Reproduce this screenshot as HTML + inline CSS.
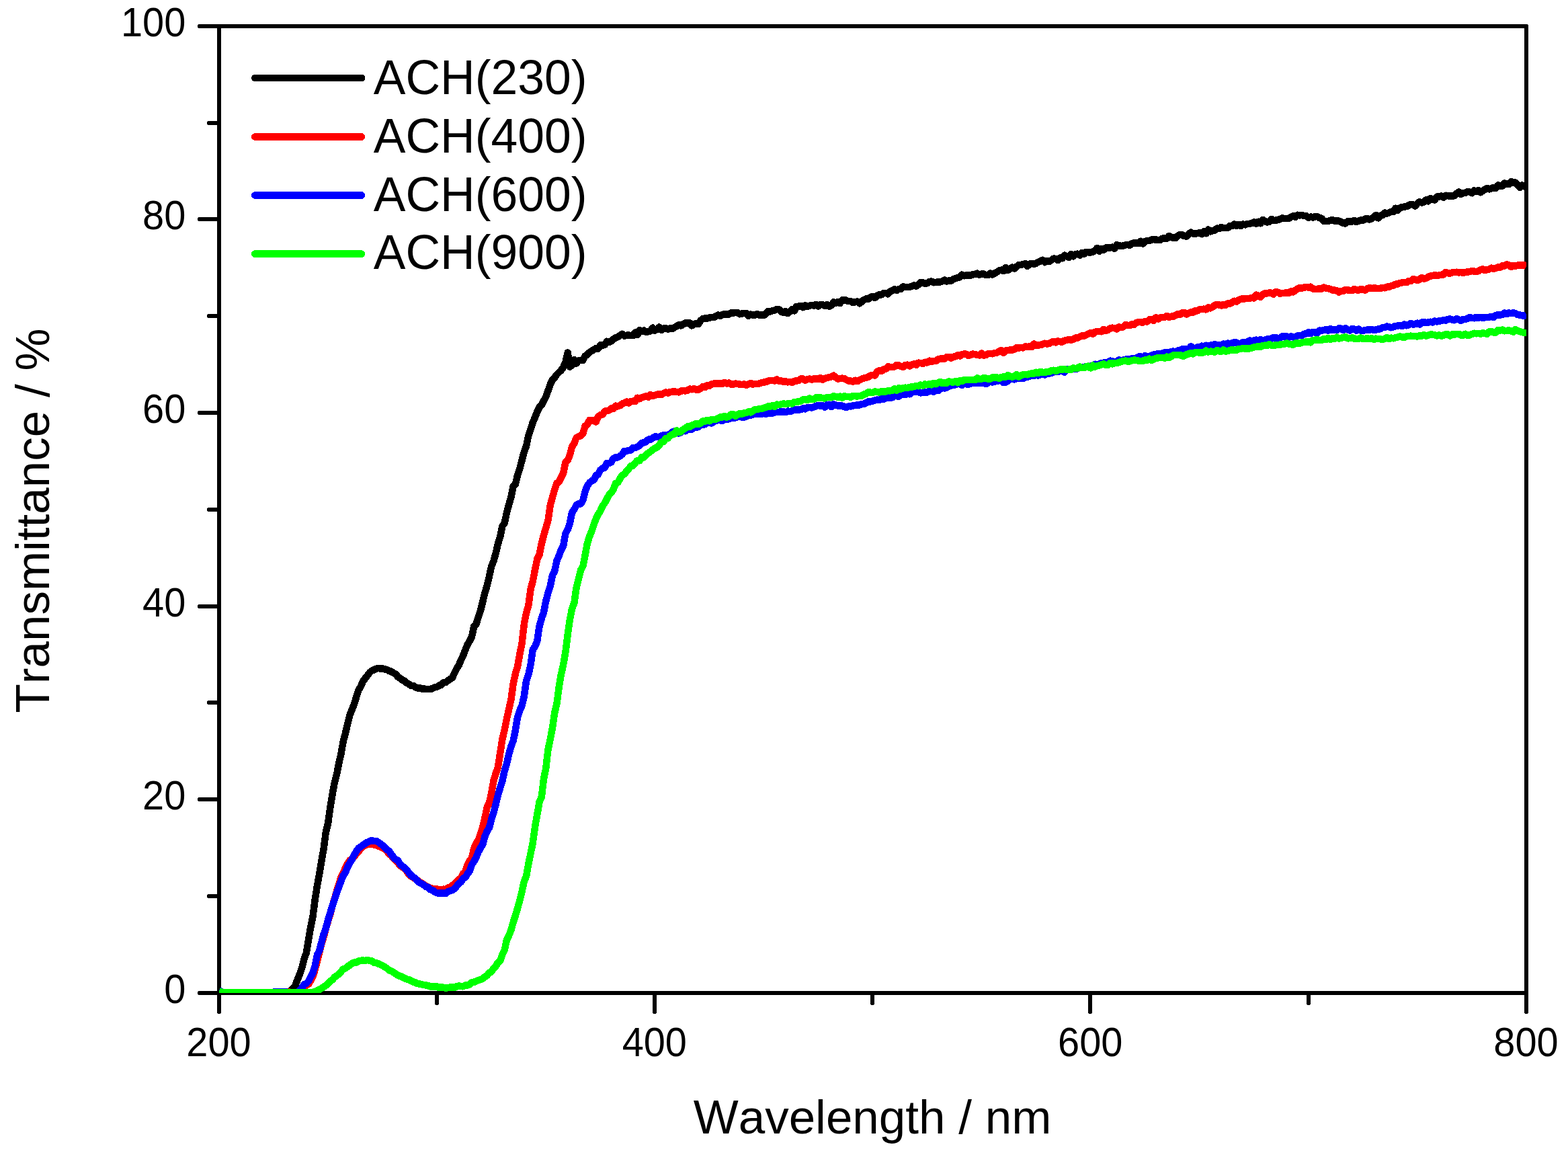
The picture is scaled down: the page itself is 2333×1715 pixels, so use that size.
<!DOCTYPE html>
<html lang="en">
<head>
<meta charset="utf-8">
<title>Transmittance spectra</title>
<style>
html,body{margin:0;padding:0;background:#fff;}
body{width:2333px;height:1715px;overflow:hidden;}
svg{display:block;}
text{font-family:"Liberation Sans",Arial,Helvetica,sans-serif;fill:#000;font-kerning:none;}
.t{font-size:60.4px;}
.a{font-size:71px;}
.l{font-size:71.5px;}
</style>
</head>
<body>
<svg width="2333" height="1715" viewBox="0 0 2333 1715">
<rect x="0" y="0" width="2333" height="1715" fill="#ffffff"/>
<defs><clipPath id="plot"><rect x="326" y="39" width="1945" height="1438"/></clipPath></defs>
<g fill="none" stroke="#000" stroke-width="6" stroke-linejoin="round" shape-rendering="crispEdges">
<rect x="326" y="39" width="1945" height="1438"/>
</g>
<g fill="none" stroke="#000" stroke-width="6" stroke-linecap="round" shape-rendering="crispEdges">
<line x1="326" y1="1477.00" x2="297" y2="1477.00"/>
<line x1="326" y1="1333.00" x2="311" y2="1333.00"/>
<line x1="326" y1="1189.00" x2="297" y2="1189.00"/>
<line x1="326" y1="1045.00" x2="311" y2="1045.00"/>
<line x1="326" y1="902.00" x2="297" y2="902.00"/>
<line x1="326" y1="758.00" x2="311" y2="758.00"/>
<line x1="326" y1="614.00" x2="297" y2="614.00"/>
<line x1="326" y1="470.00" x2="311" y2="470.00"/>
<line x1="326" y1="326.00" x2="297" y2="326.00"/>
<line x1="326" y1="183.00" x2="311" y2="183.00"/>
<line x1="326" y1="39.00" x2="297" y2="39.00"/>
<line x1="326.00" y1="1477" x2="326.00" y2="1505"/>
<line x1="650.00" y1="1477" x2="650.00" y2="1492"/>
<line x1="974.00" y1="1477" x2="974.00" y2="1505"/>
<line x1="1298.00" y1="1477" x2="1298.00" y2="1492"/>
<line x1="1622.00" y1="1477" x2="1622.00" y2="1505"/>
<line x1="1947.00" y1="1477" x2="1947.00" y2="1492"/>
<line x1="2271.00" y1="1477" x2="2271.00" y2="1505"/>
</g>
<g clip-path="url(#plot)" fill="none" stroke-width="10.5" stroke-linejoin="round" stroke-linecap="butt" shape-rendering="crispEdges">
<path d="M326.0 1474.5 L329.2 1475.5 L332.5 1476.3 L335.7 1476.3 L339.0 1476.3 L342.2 1476.3 L345.4 1476.3 L348.7 1476.3 L351.9 1476.3 L355.2 1476.3 L358.4 1476.3 L361.7 1476.3 L364.9 1476.3 L368.1 1476.3 L371.4 1476.3 L374.6 1476.3 L377.9 1476.3 L381.1 1476.3 L384.4 1476.3 L387.6 1476.3 L390.8 1476.3 L394.1 1476.3 L397.3 1476.3 L400.6 1476.3 L403.8 1476.1 L407.0 1476.1 L410.3 1476.0 L413.5 1476.1 L416.8 1476.2 L420.0 1476.3 L423.2 1476.3 L426.5 1476.1 L429.7 1475.0 L433.0 1473.0 L436.2 1470.1 L439.5 1465.7 L442.7 1456.8 L445.9 1449.2 L449.2 1439.4 L452.4 1426.8 L455.7 1417.6 L458.9 1398.9 L462.1 1379.8 L465.4 1364.0 L468.6 1338.7 L471.9 1318.0 L475.1 1300.1 L478.4 1280.7 L481.6 1262.5 L484.8 1238.1 L488.1 1224.4 L491.3 1201.5 L494.6 1181.0 L497.8 1163.9 L501.1 1151.7 L504.3 1135.0 L507.5 1121.0 L510.8 1102.4 L514.0 1090.3 L517.3 1076.3 L520.5 1063.4 L523.7 1055.5 L527.0 1047.3 L530.2 1036.9 L533.5 1026.2 L536.7 1021.2 L540.0 1013.6 L543.2 1009.2 L546.4 1005.2 L549.7 1000.7 L552.9 997.7 L556.2 996.5 L559.4 994.8 L562.6 994.0 L565.9 994.5 L569.1 994.5 L572.4 995.5 L575.6 995.9 L578.9 998.0 L582.1 998.8 L585.3 1001.0 L588.6 1002.4 L591.8 1006.6 L595.1 1008.6 L598.3 1011.3 L601.5 1012.5 L604.8 1015.6 L608.0 1017.2 L611.3 1019.7 L614.5 1019.8 L617.8 1022.0 L621.0 1023.4 L624.2 1023.2 L627.5 1024.4 L630.7 1024.3 L634.0 1025.0 L637.2 1025.0 L640.4 1025.1 L643.7 1023.9 L646.9 1022.4 L650.2 1021.8 L653.4 1019.7 L656.6 1018.7 L659.9 1015.4 L663.1 1015.1 L666.4 1012.3 L669.6 1010.2 L672.9 1008.2 L676.1 1001.2 L679.3 994.8 L682.6 989.7 L685.8 981.9 L689.1 975.0 L692.3 966.7 L695.5 959.1 L698.8 953.3 L702.0 947.1 L705.3 931.5 L708.5 928.4 L711.8 917.2 L715.0 908.2 L718.2 895.2 L721.5 881.6 L724.7 871.3 L728.0 857.1 L731.2 842.5 L734.5 834.4 L737.7 822.8 L740.9 809.1 L744.2 798.5 L747.4 782.5 L750.7 777.9 L753.9 762.9 L757.1 750.8 L760.4 739.5 L763.6 723.6 L766.9 720.2 L770.1 706.7 L773.4 696.9 L776.6 684.6 L779.8 672.0 L783.1 663.5 L786.3 647.8 L789.6 638.5 L792.8 628.1 L796.0 621.1 L799.3 612.3 L802.5 605.9 L805.8 602.5 L809.0 596.2 L812.2 590.3 L815.5 581.1 L818.7 571.7 L822.0 565.2 L825.2 561.8 L828.5 557.0 L831.7 553.8 L834.9 550.8 L838.2 546.2 L841.4 538.7 L844.7 524.4 L847.9 545.6 L851.1 543.2 L854.4 535.1 L857.6 540.5 L860.9 536.3 L864.1 536.2 L867.4 535.9 L870.6 529.6 L873.8 527.4 L877.1 524.1 L880.3 522.0 L883.6 520.1 L886.8 518.1 L890.0 518.7 L893.3 513.3 L896.5 513.8 L899.8 513.0 L903.0 507.8 L906.3 508.9 L909.5 507.5 L912.7 504.6 L916.0 502.4 L919.2 501.2 L922.5 499.2 L925.7 496.8 L929.0 499.5 L932.2 498.8 L935.4 498.4 L938.7 499.2 L941.9 499.0 L945.2 494.5 L948.4 498.2 L951.6 491.2 L954.9 493.2 L958.1 491.6 L961.4 493.7 L964.6 493.2 L967.9 492.4 L971.1 487.5 L974.3 491.6 L977.6 490.1 L980.8 486.5 L984.1 490.9 L987.3 488.7 L990.5 488.1 L993.8 489.8 L997.0 488.4 L1000.3 489.2 L1003.5 487.2 L1006.8 485.1 L1010.0 483.1 L1013.2 484.4 L1016.5 482.2 L1019.7 480.5 L1023.0 480.6 L1026.2 480.4 L1029.4 484.4 L1032.7 482.0 L1035.9 481.2 L1039.2 481.8 L1042.4 476.8 L1045.7 474.2 L1048.9 473.5 L1052.1 473.6 L1055.4 472.6 L1058.6 472.1 L1061.9 472.2 L1065.1 470.4 L1068.3 468.5 L1071.6 470.0 L1074.8 467.8 L1078.1 467.2 L1081.3 467.8 L1084.5 467.4 L1087.8 465.2 L1091.0 465.6 L1094.3 464.8 L1097.5 465.2 L1100.8 467.3 L1104.0 466.5 L1107.2 466.1 L1110.5 465.9 L1113.7 469.6 L1117.0 467.6 L1120.2 468.6 L1123.5 468.4 L1126.7 467.2 L1129.9 468.8 L1133.2 468.0 L1136.4 468.9 L1139.7 466.9 L1142.9 463.0 L1146.1 463.3 L1149.4 462.2 L1152.6 461.5 L1155.9 460.0 L1159.1 460.2 L1162.3 463.7 L1165.6 465.1 L1168.8 463.0 L1172.1 466.3 L1175.3 463.4 L1178.6 460.3 L1181.8 462.4 L1185.0 456.0 L1188.3 455.7 L1191.5 454.8 L1194.8 457.2 L1198.0 454.2 L1201.2 455.8 L1204.5 455.0 L1207.7 453.8 L1211.0 454.6 L1214.2 452.9 L1217.5 455.5 L1220.7 453.1 L1223.9 453.1 L1227.2 454.9 L1230.4 453.1 L1233.7 455.7 L1236.9 454.5 L1240.2 449.5 L1243.4 450.9 L1246.6 449.1 L1249.9 450.9 L1253.1 446.2 L1256.4 445.9 L1259.6 447.1 L1262.8 448.2 L1266.1 448.2 L1269.3 450.2 L1272.6 449.2 L1275.8 448.6 L1279.0 451.2 L1282.3 448.6 L1285.5 446.0 L1288.8 444.4 L1292.0 444.7 L1295.3 442.2 L1298.5 440.8 L1301.7 443.0 L1305.0 440.0 L1308.2 438.3 L1311.5 438.3 L1314.7 436.1 L1318.0 436.0 L1321.2 437.3 L1324.4 433.8 L1327.7 432.1 L1330.9 430.4 L1334.2 431.9 L1337.4 430.0 L1340.6 429.9 L1343.9 426.3 L1347.1 427.2 L1350.4 427.0 L1353.6 426.8 L1356.8 425.7 L1360.1 424.3 L1363.3 425.7 L1366.6 423.3 L1369.8 420.0 L1373.1 420.5 L1376.3 421.6 L1379.5 421.4 L1382.8 418.9 L1386.0 418.6 L1389.3 420.3 L1392.5 419.8 L1395.8 419.5 L1399.0 419.5 L1402.2 418.1 L1405.5 416.4 L1408.7 418.5 L1412.0 417.5 L1415.2 417.7 L1418.4 415.2 L1421.7 413.9 L1424.9 413.1 L1428.2 412.4 L1431.4 408.7 L1434.7 410.3 L1437.9 409.4 L1441.1 409.8 L1444.4 409.4 L1447.6 408.3 L1450.9 408.0 L1454.1 406.7 L1457.3 408.7 L1460.6 407.6 L1463.8 407.6 L1467.1 409.2 L1470.3 408.8 L1473.5 406.5 L1476.8 408.5 L1480.0 406.5 L1483.3 404.7 L1486.5 402.5 L1489.8 401.6 L1493.0 403.1 L1496.2 398.1 L1499.5 402.2 L1502.7 399.9 L1506.0 397.6 L1509.2 399.5 L1512.5 396.8 L1515.7 394.1 L1518.9 394.2 L1522.2 393.0 L1525.4 392.3 L1528.7 395.9 L1531.9 392.8 L1535.1 391.9 L1538.4 392.7 L1541.6 391.8 L1544.9 389.6 L1548.1 388.6 L1551.3 386.8 L1554.6 390.1 L1557.8 387.9 L1561.1 388.9 L1564.3 387.1 L1567.6 384.6 L1570.8 384.9 L1574.0 387.1 L1577.3 383.5 L1580.5 384.3 L1583.8 379.7 L1587.0 381.1 L1590.2 382.7 L1593.5 378.1 L1596.7 381.4 L1600.0 378.5 L1603.2 377.6 L1606.5 379.6 L1609.7 376.2 L1612.9 377.7 L1616.2 374.9 L1619.4 375.3 L1622.7 375.5 L1625.9 374.8 L1629.2 372.4 L1632.4 369.0 L1635.6 373.7 L1638.9 370.0 L1642.1 371.8 L1645.4 368.5 L1648.6 368.4 L1651.8 368.5 L1655.1 367.7 L1658.3 369.8 L1661.6 364.3 L1664.8 365.3 L1668.0 365.9 L1671.3 365.5 L1674.5 364.4 L1677.8 364.1 L1681.0 364.7 L1684.3 362.0 L1687.5 361.5 L1690.7 361.6 L1694.0 362.1 L1697.2 358.7 L1700.5 362.6 L1703.7 359.1 L1707.0 358.2 L1710.2 358.1 L1713.4 356.5 L1716.7 356.2 L1719.9 356.5 L1723.2 357.0 L1726.4 356.8 L1729.6 354.7 L1732.9 354.3 L1736.1 354.7 L1739.4 351.0 L1742.6 352.7 L1745.8 353.8 L1749.1 354.0 L1752.3 351.0 L1755.6 348.8 L1758.8 349.3 L1762.1 351.1 L1765.3 351.6 L1768.5 348.1 L1771.8 345.7 L1775.0 347.3 L1778.3 347.6 L1781.5 347.2 L1784.8 345.9 L1788.0 348.1 L1791.2 344.2 L1794.5 347.4 L1797.7 341.6 L1801.0 344.4 L1804.2 343.4 L1807.4 342.4 L1810.7 339.7 L1813.9 340.0 L1817.2 338.0 L1820.4 339.1 L1823.7 338.9 L1826.9 338.7 L1830.1 335.8 L1833.4 335.9 L1836.6 333.5 L1839.9 335.9 L1843.1 333.9 L1846.3 336.1 L1849.6 333.5 L1852.8 334.4 L1856.1 332.8 L1859.3 332.8 L1862.5 332.1 L1865.8 330.3 L1869.0 332.6 L1872.3 329.8 L1875.5 332.3 L1878.8 326.9 L1882.0 329.1 L1885.2 330.4 L1888.5 330.0 L1891.7 325.8 L1895.0 328.2 L1898.2 327.6 L1901.5 327.2 L1904.7 325.7 L1907.9 324.5 L1911.2 325.1 L1914.4 325.0 L1917.7 324.9 L1920.9 322.9 L1924.1 321.4 L1927.4 322.9 L1930.6 319.7 L1933.9 320.3 L1937.1 320.2 L1940.3 320.9 L1943.6 321.2 L1946.8 323.8 L1950.1 322.5 L1953.3 323.5 L1956.6 322.3 L1959.8 322.2 L1963.0 323.9 L1966.3 324.6 L1969.5 328.9 L1972.8 328.9 L1976.0 328.8 L1979.2 328.1 L1982.5 327.0 L1985.7 328.7 L1989.0 328.6 L1992.2 328.6 L1995.5 330.3 L1998.7 332.0 L2001.9 332.4 L2005.2 329.3 L2008.4 329.5 L2011.7 329.5 L2014.9 327.9 L2018.2 330.2 L2021.4 328.7 L2024.6 327.6 L2027.9 327.6 L2031.1 325.6 L2034.4 325.2 L2037.6 326.4 L2040.8 325.2 L2044.1 323.2 L2047.3 320.0 L2050.6 324.4 L2053.8 320.6 L2057.1 320.2 L2060.3 316.5 L2063.5 317.5 L2066.8 316.4 L2070.0 314.9 L2073.3 314.9 L2076.5 309.7 L2079.7 312.7 L2083.0 309.3 L2086.2 308.0 L2089.5 307.6 L2092.7 307.1 L2095.9 305.7 L2099.2 303.9 L2102.4 304.3 L2105.7 306.4 L2108.9 302.6 L2112.2 300.3 L2115.4 301.6 L2118.6 300.4 L2121.9 297.3 L2125.1 299.3 L2128.4 294.9 L2131.6 296.6 L2134.8 297.5 L2138.1 292.4 L2141.3 292.6 L2144.6 291.4 L2147.8 293.7 L2151.1 290.7 L2154.3 291.3 L2157.5 291.6 L2160.8 291.9 L2164.0 290.9 L2167.3 287.9 L2170.5 285.7 L2173.8 288.8 L2177.0 286.8 L2180.2 287.0 L2183.5 284.9 L2186.7 285.5 L2190.0 287.2 L2193.2 283.4 L2196.4 285.0 L2199.7 282.9 L2202.9 286.2 L2206.2 284.1 L2209.4 281.8 L2212.7 280.0 L2215.9 281.4 L2219.1 280.4 L2222.4 278.9 L2225.6 279.8 L2228.9 275.4 L2232.1 276.7 L2235.3 276.5 L2238.6 272.6 L2241.8 273.7 L2245.1 274.0 L2248.3 270.1 L2251.6 271.5 L2254.8 271.5 L2258.0 275.3 L2261.3 278.9 L2264.5 275.6 L2267.8 277.0 L2271.0 278.7" stroke="#000000"/>
<path d="M326.0 1474.5 L329.2 1475.5 L332.5 1476.3 L335.7 1476.3 L339.0 1476.3 L342.2 1476.3 L345.4 1476.3 L348.7 1476.3 L351.9 1476.3 L355.2 1476.3 L358.4 1476.3 L361.7 1476.3 L364.9 1476.3 L368.1 1476.3 L371.4 1476.3 L374.6 1476.3 L377.9 1476.3 L381.1 1476.3 L384.4 1476.3 L387.6 1476.3 L390.8 1476.3 L394.1 1476.3 L397.3 1476.3 L400.6 1476.3 L403.8 1476.0 L407.0 1475.8 L410.3 1475.6 L413.5 1475.5 L416.8 1475.4 L420.0 1475.4 L423.2 1475.4 L426.5 1475.5 L429.7 1475.6 L433.0 1475.8 L436.2 1476.1 L439.5 1476.3 L442.7 1476.3 L445.9 1476.0 L449.2 1473.8 L452.4 1470.2 L455.7 1465.1 L458.9 1464.0 L462.1 1458.7 L465.4 1453.1 L468.6 1442.4 L471.9 1429.5 L475.1 1416.8 L478.4 1403.6 L481.6 1393.6 L484.8 1381.0 L488.1 1370.2 L491.3 1360.2 L494.6 1347.2 L497.8 1336.6 L501.1 1325.4 L504.3 1315.3 L507.5 1304.4 L510.8 1298.1 L514.0 1290.8 L517.3 1284.6 L520.5 1279.8 L523.7 1276.9 L527.0 1274.1 L530.2 1270.0 L533.5 1266.6 L536.7 1262.4 L540.0 1259.5 L543.2 1257.4 L546.4 1256.2 L549.7 1255.5 L552.9 1255.8 L556.2 1256.5 L559.4 1256.2 L562.6 1258.5 L565.9 1259.3 L569.1 1261.4 L572.4 1262.8 L575.6 1265.4 L578.9 1270.4 L582.1 1272.4 L585.3 1276.8 L588.6 1279.7 L591.8 1283.2 L595.1 1287.3 L598.3 1289.7 L601.5 1291.0 L604.8 1295.2 L608.0 1300.0 L611.3 1303.5 L614.5 1305.0 L617.8 1307.3 L621.0 1309.3 L624.2 1312.7 L627.5 1313.5 L630.7 1315.7 L634.0 1318.1 L637.2 1319.6 L640.4 1320.7 L643.7 1322.4 L646.9 1322.2 L650.2 1322.4 L653.4 1323.1 L656.6 1323.3 L659.9 1322.6 L663.1 1323.5 L666.4 1320.5 L669.6 1319.9 L672.9 1317.0 L676.1 1315.4 L679.3 1311.7 L682.6 1308.2 L685.8 1306.4 L689.1 1299.2 L692.3 1296.6 L695.5 1286.8 L698.8 1280.5 L702.0 1276.1 L705.3 1261.8 L708.5 1254.8 L711.8 1249.1 L715.0 1240.4 L718.2 1230.1 L721.5 1216.3 L724.7 1200.7 L728.0 1194.3 L731.2 1179.8 L734.5 1160.9 L737.7 1150.4 L740.9 1141.3 L744.2 1120.1 L747.4 1099.5 L750.7 1085.9 L753.9 1069.5 L757.1 1055.3 L760.4 1040.6 L763.6 1017.5 L766.9 1002.0 L770.1 991.1 L773.4 972.8 L776.6 956.9 L779.8 928.4 L783.1 911.6 L786.3 900.4 L789.6 876.1 L792.8 864.3 L796.0 847.7 L799.3 831.6 L802.5 825.0 L805.8 808.7 L809.0 796.0 L812.2 785.4 L815.5 773.8 L818.7 751.7 L822.0 739.5 L825.2 728.2 L828.5 718.6 L831.7 716.7 L834.9 710.2 L838.2 703.4 L841.4 687.4 L844.7 684.8 L847.9 676.6 L851.1 664.1 L854.4 659.5 L857.6 650.9 L860.9 649.4 L864.1 648.0 L867.4 644.7 L870.6 633.7 L873.8 631.5 L877.1 625.1 L880.3 625.6 L883.6 625.5 L886.8 627.5 L890.0 619.5 L893.3 617.4 L896.5 616.6 L899.8 611.8 L903.0 611.0 L906.3 610.4 L909.5 607.5 L912.7 608.1 L916.0 603.6 L919.2 604.4 L922.5 603.3 L925.7 600.7 L929.0 599.3 L932.2 597.5 L935.4 599.4 L938.7 597.2 L941.9 596.7 L945.2 597.1 L948.4 591.8 L951.6 593.3 L954.9 591.3 L958.1 590.2 L961.4 589.3 L964.6 590.6 L967.9 587.1 L971.1 589.0 L974.3 588.1 L977.6 586.7 L980.8 586.6 L984.1 586.9 L987.3 585.0 L990.5 583.4 L993.8 584.6 L997.0 582.9 L1000.3 582.7 L1003.5 582.6 L1006.8 582.8 L1010.0 583.4 L1013.2 581.6 L1016.5 581.0 L1019.7 581.5 L1023.0 580.7 L1026.2 578.5 L1029.4 579.3 L1032.7 578.2 L1035.9 579.7 L1039.2 579.6 L1042.4 577.7 L1045.7 575.2 L1048.9 576.1 L1052.1 573.3 L1055.4 573.8 L1058.6 571.5 L1061.9 570.7 L1065.1 570.1 L1068.3 571.0 L1071.6 570.0 L1074.8 570.8 L1078.1 568.9 L1081.3 570.6 L1084.5 569.5 L1087.8 571.5 L1091.0 571.5 L1094.3 570.5 L1097.5 571.1 L1100.8 571.6 L1104.0 572.1 L1107.2 571.5 L1110.5 573.0 L1113.7 571.4 L1117.0 569.8 L1120.2 571.6 L1123.5 570.8 L1126.7 571.2 L1129.9 570.4 L1133.2 569.3 L1136.4 568.6 L1139.7 568.1 L1142.9 566.7 L1146.1 565.8 L1149.4 565.9 L1152.6 566.5 L1155.9 564.4 L1159.1 566.6 L1162.3 566.5 L1165.6 567.8 L1168.8 567.4 L1172.1 568.3 L1175.3 567.9 L1178.6 569.0 L1181.8 566.9 L1185.0 566.4 L1188.3 566.0 L1191.5 563.5 L1194.8 563.6 L1198.0 565.6 L1201.2 564.3 L1204.5 563.6 L1207.7 564.6 L1211.0 563.5 L1214.2 563.7 L1217.5 563.8 L1220.7 562.2 L1223.9 564.6 L1227.2 562.8 L1230.4 562.1 L1233.7 561.2 L1236.9 560.4 L1240.2 558.6 L1243.4 561.1 L1246.6 563.6 L1249.9 563.1 L1253.1 562.7 L1256.4 563.1 L1259.6 565.2 L1262.8 566.5 L1266.1 566.6 L1269.3 567.7 L1272.6 565.7 L1275.8 567.1 L1279.0 565.3 L1282.3 563.5 L1285.5 562.4 L1288.8 561.7 L1292.0 560.8 L1295.3 558.6 L1298.5 557.8 L1301.7 558.5 L1305.0 552.9 L1308.2 551.3 L1311.5 552.2 L1314.7 549.4 L1318.0 548.9 L1321.2 545.4 L1324.4 546.0 L1327.7 546.2 L1330.9 545.4 L1334.2 542.9 L1337.4 543.6 L1340.6 544.8 L1343.9 545.8 L1347.1 542.9 L1350.4 542.7 L1353.6 544.4 L1356.8 542.5 L1360.1 541.4 L1363.3 543.0 L1366.6 539.6 L1369.8 540.0 L1373.1 541.1 L1376.3 538.7 L1379.5 539.4 L1382.8 536.6 L1386.0 537.9 L1389.3 536.8 L1392.5 537.2 L1395.8 534.5 L1399.0 533.7 L1402.2 533.2 L1405.5 533.6 L1408.7 531.1 L1412.0 531.1 L1415.2 532.6 L1418.4 530.8 L1421.7 530.2 L1424.9 528.5 L1428.2 529.5 L1431.4 527.1 L1434.7 526.5 L1437.9 526.8 L1441.1 529.0 L1444.4 527.7 L1447.6 526.5 L1450.9 527.1 L1454.1 527.8 L1457.3 528.5 L1460.6 525.7 L1463.8 528.5 L1467.1 527.9 L1470.3 526.0 L1473.5 525.9 L1476.8 526.3 L1480.0 524.9 L1483.3 524.7 L1486.5 522.7 L1489.8 521.2 L1493.0 524.8 L1496.2 521.7 L1499.5 521.0 L1502.7 520.6 L1506.0 520.8 L1509.2 519.7 L1512.5 517.1 L1515.7 517.5 L1518.9 517.1 L1522.2 517.3 L1525.4 515.4 L1528.7 515.9 L1531.9 515.2 L1535.1 515.9 L1538.4 511.4 L1541.6 513.6 L1544.9 513.4 L1548.1 513.2 L1551.3 512.0 L1554.6 510.7 L1557.8 511.7 L1561.1 510.9 L1564.3 509.1 L1567.6 508.0 L1570.8 509.4 L1574.0 507.4 L1577.3 508.3 L1580.5 508.6 L1583.8 506.6 L1587.0 505.9 L1590.2 505.1 L1593.5 505.6 L1596.7 504.8 L1600.0 502.7 L1603.2 502.5 L1606.5 500.9 L1609.7 499.5 L1612.9 499.9 L1616.2 498.2 L1619.4 496.5 L1622.7 495.0 L1625.9 496.8 L1629.2 493.9 L1632.4 493.0 L1635.6 493.1 L1638.9 493.3 L1642.1 490.0 L1645.4 491.7 L1648.6 490.7 L1651.8 488.3 L1655.1 487.7 L1658.3 487.9 L1661.6 489.4 L1664.8 486.4 L1668.0 487.1 L1671.3 486.2 L1674.5 483.0 L1677.8 483.9 L1681.0 484.2 L1684.3 482.0 L1687.5 483.0 L1690.7 480.0 L1694.0 478.9 L1697.2 479.2 L1700.5 479.6 L1703.7 477.9 L1707.0 478.5 L1710.2 475.3 L1713.4 475.6 L1716.7 476.9 L1719.9 472.3 L1723.2 474.4 L1726.4 472.5 L1729.6 472.0 L1732.9 471.8 L1736.1 469.9 L1739.4 471.7 L1742.6 470.7 L1745.8 470.7 L1749.1 468.9 L1752.3 467.1 L1755.6 468.1 L1758.8 465.3 L1762.1 465.1 L1765.3 467.5 L1768.5 465.8 L1771.8 464.4 L1775.0 464.8 L1778.3 462.2 L1781.5 462.4 L1784.8 460.2 L1788.0 460.0 L1791.2 459.7 L1794.5 460.4 L1797.7 457.4 L1801.0 458.4 L1804.2 456.5 L1807.4 454.0 L1810.7 453.0 L1813.9 453.5 L1817.2 454.5 L1820.4 452.9 L1823.7 453.7 L1826.9 451.2 L1830.1 451.7 L1833.4 449.7 L1836.6 447.7 L1839.9 448.5 L1843.1 446.2 L1846.3 444.7 L1849.6 444.6 L1852.8 444.2 L1856.1 444.1 L1859.3 443.9 L1862.5 442.9 L1865.8 443.6 L1869.0 438.7 L1872.3 439.8 L1875.5 441.9 L1878.8 438.1 L1882.0 436.5 L1885.2 436.4 L1888.5 435.6 L1891.7 435.7 L1895.0 437.5 L1898.2 434.2 L1901.5 434.7 L1904.7 436.9 L1907.9 435.8 L1911.2 435.9 L1914.4 435.1 L1917.7 436.1 L1920.9 433.4 L1924.1 434.4 L1927.4 431.9 L1930.6 429.7 L1933.9 428.0 L1937.1 428.7 L1940.3 427.7 L1943.6 426.9 L1946.8 427.6 L1950.1 426.7 L1953.3 429.4 L1956.6 429.9 L1959.8 429.9 L1963.0 429.2 L1966.3 429.5 L1969.5 427.6 L1972.8 428.7 L1976.0 429.1 L1979.2 429.9 L1982.5 431.7 L1985.7 431.6 L1989.0 432.2 L1992.2 434.6 L1995.5 433.2 L1998.7 432.8 L2001.9 431.1 L2005.2 431.3 L2008.4 432.1 L2011.7 432.2 L2014.9 429.8 L2018.2 431.3 L2021.4 431.4 L2024.6 430.3 L2027.9 430.6 L2031.1 431.7 L2034.4 429.3 L2037.6 428.0 L2040.8 429.1 L2044.1 428.3 L2047.3 428.7 L2050.6 429.1 L2053.8 428.9 L2057.1 427.8 L2060.3 428.3 L2063.5 426.7 L2066.8 426.7 L2070.0 425.2 L2073.3 424.4 L2076.5 422.7 L2079.7 422.4 L2083.0 421.0 L2086.2 420.4 L2089.5 419.9 L2092.7 420.2 L2095.9 417.9 L2099.2 418.0 L2102.4 415.4 L2105.7 415.8 L2108.9 416.9 L2112.2 415.6 L2115.4 413.1 L2118.6 414.6 L2121.9 413.8 L2125.1 412.0 L2128.4 410.4 L2131.6 410.2 L2134.8 409.1 L2138.1 410.1 L2141.3 409.3 L2144.6 408.7 L2147.8 408.6 L2151.1 404.8 L2154.3 406.3 L2157.5 406.6 L2160.8 405.3 L2164.0 405.1 L2167.3 404.7 L2170.5 405.4 L2173.8 405.0 L2177.0 406.0 L2180.2 405.0 L2183.5 404.5 L2186.7 404.1 L2190.0 403.0 L2193.2 403.6 L2196.4 404.0 L2199.7 403.3 L2202.9 401.3 L2206.2 400.4 L2209.4 402.1 L2212.7 401.0 L2215.9 400.5 L2219.1 398.7 L2222.4 399.6 L2225.6 398.9 L2228.9 397.3 L2232.1 397.5 L2235.3 395.3 L2238.6 395.6 L2241.8 393.2 L2245.1 394.5 L2248.3 396.9 L2251.6 394.9 L2254.8 395.8 L2258.0 394.6 L2261.3 394.4 L2264.5 394.6 L2267.8 394.4 L2271.0 396.1" stroke="#ff0000"/>
<path d="M326.0 1473.5 L329.2 1475.1 L332.5 1476.3 L335.7 1476.3 L339.0 1476.3 L342.2 1476.3 L345.4 1476.3 L348.7 1476.3 L351.9 1476.3 L355.2 1476.3 L358.4 1476.3 L361.7 1476.3 L364.9 1476.3 L368.1 1476.3 L371.4 1476.3 L374.6 1476.3 L377.9 1476.3 L381.1 1476.3 L384.4 1476.3 L387.6 1476.3 L390.8 1476.3 L394.1 1476.3 L397.3 1476.3 L400.6 1476.2 L403.8 1476.0 L407.0 1475.7 L410.3 1475.5 L413.5 1475.4 L416.8 1475.4 L420.0 1475.4 L423.2 1475.5 L426.5 1475.7 L429.7 1475.9 L433.0 1476.2 L436.2 1476.3 L439.5 1476.3 L442.7 1475.7 L445.9 1473.1 L449.2 1469.4 L452.4 1464.2 L455.7 1463.0 L458.9 1459.5 L462.1 1453.3 L465.4 1447.3 L468.6 1437.3 L471.9 1420.4 L475.1 1414.6 L478.4 1401.6 L481.6 1389.7 L484.8 1380.8 L488.1 1368.3 L491.3 1358.1 L494.6 1346.9 L497.8 1337.5 L501.1 1327.3 L504.3 1319.3 L507.5 1310.3 L510.8 1302.2 L514.0 1297.6 L517.3 1289.4 L520.5 1283.3 L523.7 1278.4 L527.0 1271.7 L530.2 1266.4 L533.5 1261.6 L536.7 1259.6 L540.0 1256.8 L543.2 1255.0 L546.4 1252.8 L549.7 1251.5 L552.9 1250.1 L556.2 1251.2 L559.4 1250.8 L562.6 1252.5 L565.9 1255.0 L569.1 1257.3 L572.4 1260.3 L575.6 1264.0 L578.9 1266.0 L582.1 1270.7 L585.3 1274.9 L588.6 1278.2 L591.8 1279.8 L595.1 1284.9 L598.3 1288.0 L601.5 1290.5 L604.8 1293.6 L608.0 1297.7 L611.3 1301.9 L614.5 1304.3 L617.8 1306.3 L621.0 1309.7 L624.2 1312.8 L627.5 1314.5 L630.7 1316.5 L634.0 1319.1 L637.2 1319.8 L640.4 1323.2 L643.7 1324.2 L646.9 1326.6 L650.2 1328.2 L653.4 1328.7 L656.6 1328.5 L659.9 1328.7 L663.1 1329.0 L666.4 1326.2 L669.6 1325.1 L672.9 1324.1 L676.1 1322.1 L679.3 1318.3 L682.6 1314.3 L685.8 1311.9 L689.1 1306.5 L692.3 1305.2 L695.5 1299.7 L698.8 1295.6 L702.0 1286.3 L705.3 1281.3 L708.5 1275.4 L711.8 1267.1 L715.0 1261.1 L718.2 1256.1 L721.5 1243.9 L724.7 1236.5 L728.0 1231.1 L731.2 1218.5 L734.5 1208.5 L737.7 1196.2 L740.9 1182.9 L744.2 1171.8 L747.4 1161.5 L750.7 1146.8 L753.9 1136.1 L757.1 1122.0 L760.4 1110.2 L763.6 1102.1 L766.9 1086.1 L770.1 1066.8 L773.4 1056.7 L776.6 1049.4 L779.8 1035.6 L783.1 1012.3 L786.3 1003.5 L789.6 988.3 L792.8 966.5 L796.0 961.7 L799.3 953.4 L802.5 931.7 L805.8 919.9 L809.0 910.8 L812.2 894.1 L815.5 881.9 L818.7 871.9 L822.0 855.7 L825.2 849.5 L828.5 833.9 L831.7 826.6 L834.9 818.1 L838.2 811.5 L841.4 793.7 L844.7 787.5 L847.9 778.3 L851.1 762.3 L854.4 757.7 L857.6 751.4 L860.9 749.2 L864.1 749.4 L867.4 744.0 L870.6 730.8 L873.8 722.8 L877.1 718.1 L880.3 715.3 L883.6 713.7 L886.8 707.2 L890.0 705.7 L893.3 699.0 L896.5 696.6 L899.8 695.8 L903.0 688.9 L906.3 689.2 L909.5 687.3 L912.7 681.8 L916.0 680.4 L919.2 680.3 L922.5 678.4 L925.7 676.0 L929.0 670.9 L932.2 670.8 L935.4 670.0 L938.7 669.4 L941.9 666.1 L945.2 666.0 L948.4 664.6 L951.6 662.9 L954.9 658.9 L958.1 658.4 L961.4 656.9 L964.6 653.7 L967.9 653.8 L971.1 651.6 L974.3 649.5 L977.6 649.7 L980.8 650.2 L984.1 648.5 L987.3 647.3 L990.5 647.5 L993.8 646.7 L997.0 645.5 L1000.3 642.8 L1003.5 641.4 L1006.8 641.7 L1010.0 644.5 L1013.2 642.8 L1016.5 639.7 L1019.7 641.3 L1023.0 638.1 L1026.2 638.8 L1029.4 638.5 L1032.7 636.3 L1035.9 636.1 L1039.2 635.0 L1042.4 631.1 L1045.7 631.7 L1048.9 631.2 L1052.1 629.1 L1055.4 627.3 L1058.6 629.4 L1061.9 627.4 L1065.1 625.8 L1068.3 624.9 L1071.6 625.2 L1074.8 625.9 L1078.1 623.6 L1081.3 624.1 L1084.5 623.3 L1087.8 622.2 L1091.0 621.9 L1094.3 621.4 L1097.5 619.9 L1100.8 618.8 L1104.0 620.5 L1107.2 620.7 L1110.5 619.3 L1113.7 617.4 L1117.0 617.8 L1120.2 616.7 L1123.5 615.4 L1126.7 615.4 L1129.9 615.4 L1133.2 616.1 L1136.4 614.0 L1139.7 615.9 L1142.9 614.4 L1146.1 615.2 L1149.4 614.6 L1152.6 613.4 L1155.9 613.0 L1159.1 612.8 L1162.3 612.4 L1165.6 612.4 L1168.8 613.2 L1172.1 611.6 L1175.3 612.1 L1178.6 611.1 L1181.8 609.3 L1185.0 609.7 L1188.3 609.4 L1191.5 609.2 L1194.8 607.4 L1198.0 608.4 L1201.2 606.1 L1204.5 606.0 L1207.7 606.4 L1211.0 605.4 L1214.2 603.9 L1217.5 603.1 L1220.7 603.5 L1223.9 603.0 L1227.2 605.6 L1230.4 602.2 L1233.7 601.7 L1236.9 605.2 L1240.2 601.3 L1243.4 602.4 L1246.6 603.5 L1249.9 603.2 L1253.1 603.7 L1256.4 605.1 L1259.6 606.1 L1262.8 604.2 L1266.1 604.3 L1269.3 603.4 L1272.6 602.8 L1275.8 602.4 L1279.0 602.4 L1282.3 600.9 L1285.5 600.8 L1288.8 599.1 L1292.0 597.5 L1295.3 597.3 L1298.5 596.5 L1301.7 595.4 L1305.0 594.7 L1308.2 594.9 L1311.5 592.3 L1314.7 593.9 L1318.0 591.6 L1321.2 591.5 L1324.4 592.2 L1327.7 591.2 L1330.9 587.7 L1334.2 589.2 L1337.4 589.6 L1340.6 586.4 L1343.9 586.2 L1347.1 587.2 L1350.4 583.8 L1353.6 586.3 L1356.8 582.6 L1360.1 583.0 L1363.3 583.0 L1366.6 583.1 L1369.8 584.4 L1373.1 584.0 L1376.3 583.7 L1379.5 583.6 L1382.8 581.3 L1386.0 581.7 L1389.3 582.7 L1392.5 579.5 L1395.8 581.2 L1399.0 578.6 L1402.2 576.6 L1405.5 577.5 L1408.7 576.5 L1412.0 574.2 L1415.2 573.5 L1418.4 572.6 L1421.7 572.2 L1424.9 570.0 L1428.2 571.2 L1431.4 572.8 L1434.7 570.7 L1437.9 571.3 L1441.1 571.5 L1444.4 570.6 L1447.6 569.8 L1450.9 569.5 L1454.1 569.3 L1457.3 570.0 L1460.6 569.1 L1463.8 570.1 L1467.1 570.9 L1470.3 569.3 L1473.5 567.0 L1476.8 568.5 L1480.0 567.5 L1483.3 566.9 L1486.5 566.1 L1489.8 566.1 L1493.0 569.1 L1496.2 568.6 L1499.5 566.7 L1502.7 563.4 L1506.0 564.0 L1509.2 564.4 L1512.5 562.5 L1515.7 562.9 L1518.9 562.9 L1522.2 562.9 L1525.4 561.2 L1528.7 560.6 L1531.9 559.5 L1535.1 558.8 L1538.4 558.8 L1541.6 558.0 L1544.9 558.4 L1548.1 557.3 L1551.3 556.3 L1554.6 557.4 L1557.8 555.1 L1561.1 555.5 L1564.3 554.8 L1567.6 553.1 L1570.8 553.2 L1574.0 552.9 L1577.3 551.5 L1580.5 550.2 L1583.8 553.6 L1587.0 549.7 L1590.2 549.5 L1593.5 548.9 L1596.7 548.6 L1600.0 548.9 L1603.2 548.3 L1606.5 546.3 L1609.7 546.7 L1612.9 546.4 L1616.2 545.0 L1619.4 545.7 L1622.7 544.3 L1625.9 544.4 L1629.2 541.8 L1632.4 544.1 L1635.6 541.6 L1638.9 540.1 L1642.1 539.7 L1645.4 539.2 L1648.6 539.8 L1651.8 536.6 L1655.1 537.3 L1658.3 538.9 L1661.6 538.4 L1664.8 535.5 L1668.0 536.2 L1671.3 535.7 L1674.5 534.7 L1677.8 533.8 L1681.0 534.7 L1684.3 533.0 L1687.5 533.0 L1690.7 533.0 L1694.0 530.7 L1697.2 530.2 L1700.5 532.8 L1703.7 529.0 L1707.0 530.6 L1710.2 530.1 L1713.4 528.5 L1716.7 527.5 L1719.9 527.2 L1723.2 525.9 L1726.4 526.2 L1729.6 525.4 L1732.9 524.5 L1736.1 524.1 L1739.4 524.7 L1742.6 523.3 L1745.8 522.5 L1749.1 524.1 L1752.3 521.6 L1755.6 521.6 L1758.8 519.5 L1762.1 518.8 L1765.3 519.8 L1768.5 519.7 L1771.8 515.2 L1775.0 518.3 L1778.3 517.9 L1781.5 516.6 L1784.8 516.8 L1788.0 514.6 L1791.2 515.6 L1794.5 513.7 L1797.7 514.2 L1801.0 513.7 L1804.2 513.8 L1807.4 512.0 L1810.7 513.2 L1813.9 513.0 L1817.2 513.5 L1820.4 511.4 L1823.7 512.2 L1826.9 510.7 L1830.1 511.5 L1833.4 510.1 L1836.6 509.3 L1839.9 509.5 L1843.1 511.3 L1846.3 510.9 L1849.6 509.1 L1852.8 508.8 L1856.1 508.7 L1859.3 506.5 L1862.5 509.6 L1865.8 506.3 L1869.0 505.7 L1872.3 506.3 L1875.5 505.2 L1878.8 506.1 L1882.0 506.0 L1885.2 504.6 L1888.5 504.7 L1891.7 503.6 L1895.0 502.1 L1898.2 502.1 L1901.5 505.0 L1904.7 502.5 L1907.9 500.3 L1911.2 500.6 L1914.4 500.5 L1917.7 501.6 L1920.9 500.5 L1924.1 501.4 L1927.4 501.3 L1930.6 499.5 L1933.9 498.9 L1937.1 499.0 L1940.3 496.8 L1943.6 496.3 L1946.8 494.3 L1950.1 496.1 L1953.3 493.8 L1956.6 494.4 L1959.8 495.9 L1963.0 491.6 L1966.3 491.9 L1969.5 490.9 L1972.8 490.3 L1976.0 491.8 L1979.2 489.1 L1982.5 490.7 L1985.7 490.3 L1989.0 491.2 L1992.2 488.3 L1995.5 488.8 L1998.7 491.1 L2001.9 488.3 L2005.2 490.4 L2008.4 491.5 L2011.7 489.0 L2014.9 489.5 L2018.2 491.6 L2021.4 489.5 L2024.6 491.7 L2027.9 492.1 L2031.1 490.9 L2034.4 490.7 L2037.6 490.6 L2040.8 489.8 L2044.1 491.0 L2047.3 490.5 L2050.6 489.4 L2053.8 489.3 L2057.1 487.1 L2060.3 487.1 L2063.5 485.4 L2066.8 486.4 L2070.0 487.3 L2073.3 486.2 L2076.5 484.9 L2079.7 484.6 L2083.0 484.1 L2086.2 485.1 L2089.5 482.4 L2092.7 484.3 L2095.9 483.2 L2099.2 480.8 L2102.4 482.5 L2105.7 482.2 L2108.9 480.6 L2112.2 482.5 L2115.4 479.5 L2118.6 479.5 L2121.9 479.8 L2125.1 479.7 L2128.4 478.7 L2131.6 479.4 L2134.8 477.6 L2138.1 478.4 L2141.3 477.4 L2144.6 477.2 L2147.8 475.9 L2151.1 476.5 L2154.3 474.8 L2157.5 474.6 L2160.8 475.6 L2164.0 476.3 L2167.3 474.2 L2170.5 475.4 L2173.8 476.9 L2177.0 475.0 L2180.2 474.8 L2183.5 473.8 L2186.7 471.8 L2190.0 473.0 L2193.2 473.3 L2196.4 471.9 L2199.7 472.9 L2202.9 471.8 L2206.2 473.1 L2209.4 472.1 L2212.7 471.9 L2215.9 471.7 L2219.1 470.8 L2222.4 472.1 L2225.6 468.8 L2228.9 468.4 L2232.1 468.5 L2235.3 467.8 L2238.6 465.4 L2241.8 467.1 L2245.1 465.4 L2248.3 466.1 L2251.6 465.3 L2254.8 466.1 L2258.0 468.0 L2261.3 468.5 L2264.5 469.2 L2267.8 469.8 L2271.0 468.0" stroke="#0000ff"/>
<path d="M326.0 1474.5 L329.2 1475.5 L332.5 1476.3 L335.7 1476.3 L339.0 1476.3 L342.2 1476.3 L345.4 1476.3 L348.7 1476.3 L351.9 1476.3 L355.2 1476.3 L358.4 1476.3 L361.7 1476.3 L364.9 1476.3 L368.1 1476.3 L371.4 1476.3 L374.6 1476.3 L377.9 1476.3 L381.1 1476.3 L384.4 1476.3 L387.6 1476.3 L390.8 1476.3 L394.1 1476.3 L397.3 1476.3 L400.6 1476.3 L403.8 1476.1 L407.0 1476.0 L410.3 1475.9 L413.5 1475.9 L416.8 1475.8 L420.0 1475.8 L423.2 1475.8 L426.5 1475.9 L429.7 1475.9 L433.0 1476.0 L436.2 1476.1 L439.5 1476.2 L442.7 1476.2 L445.9 1476.3 L449.2 1476.3 L452.4 1476.3 L455.7 1476.3 L458.9 1476.3 L462.1 1476.3 L465.4 1475.8 L468.6 1474.9 L471.9 1473.5 L475.1 1471.9 L478.4 1470.1 L481.6 1467.9 L484.8 1465.8 L488.1 1463.3 L491.3 1459.3 L494.6 1457.4 L497.8 1453.4 L501.1 1451.3 L504.3 1448.5 L507.5 1445.3 L510.8 1441.3 L514.0 1440.5 L517.3 1437.5 L520.5 1435.7 L523.7 1433.0 L527.0 1431.6 L530.2 1431.5 L533.5 1429.6 L536.7 1428.8 L540.0 1428.5 L543.2 1428.9 L546.4 1428.0 L549.7 1428.9 L552.9 1429.3 L556.2 1431.6 L559.4 1432.2 L562.6 1433.2 L565.9 1434.8 L569.1 1436.4 L572.4 1438.1 L575.6 1440.2 L578.9 1443.1 L582.1 1444.2 L585.3 1446.2 L588.6 1448.3 L591.8 1450.7 L595.1 1451.9 L598.3 1452.9 L601.5 1454.9 L604.8 1456.4 L608.0 1457.1 L611.3 1458.7 L614.5 1460.4 L617.8 1461.2 L621.0 1463.1 L624.2 1463.5 L627.5 1464.1 L630.7 1465.1 L634.0 1465.5 L637.2 1466.2 L640.4 1467.4 L643.7 1467.6 L646.9 1467.3 L650.2 1467.5 L653.4 1469.1 L656.6 1468.1 L659.9 1468.8 L663.1 1469.8 L666.4 1468.8 L669.6 1468.7 L672.9 1468.4 L676.1 1469.1 L679.3 1467.4 L682.6 1466.5 L685.8 1466.9 L689.1 1467.3 L692.3 1465.6 L695.5 1465.5 L698.8 1464.2 L702.0 1461.3 L705.3 1460.9 L708.5 1459.4 L711.8 1457.9 L715.0 1457.2 L718.2 1455.5 L721.5 1452.9 L724.7 1451.0 L728.0 1446.9 L731.2 1445.4 L734.5 1440.3 L737.7 1437.2 L740.9 1431.5 L744.2 1429.5 L747.4 1419.5 L750.7 1413.0 L753.9 1398.3 L757.1 1391.9 L760.4 1383.4 L763.6 1371.8 L766.9 1361.8 L770.1 1351.0 L773.4 1339.0 L776.6 1325.9 L779.8 1311.3 L783.1 1303.2 L786.3 1285.0 L789.6 1269.3 L792.8 1253.4 L796.0 1230.2 L799.3 1211.6 L802.5 1193.1 L805.8 1185.2 L809.0 1158.8 L812.2 1142.9 L815.5 1114.5 L818.7 1100.0 L822.0 1082.2 L825.2 1060.4 L828.5 1046.7 L831.7 1021.9 L834.9 1003.0 L838.2 988.4 L841.4 970.1 L844.7 944.0 L847.9 921.4 L851.1 905.3 L854.4 896.6 L857.6 873.9 L860.9 861.0 L864.1 847.9 L867.4 842.0 L870.6 825.9 L873.8 808.5 L877.1 797.9 L880.3 790.2 L883.6 780.2 L886.8 771.4 L890.0 765.0 L893.3 759.8 L896.5 752.9 L899.8 748.2 L903.0 742.0 L906.3 736.0 L909.5 732.8 L912.7 727.9 L916.0 719.0 L919.2 717.8 L922.5 712.0 L925.7 706.9 L929.0 705.3 L932.2 700.8 L935.4 697.6 L938.7 692.9 L941.9 692.8 L945.2 688.5 L948.4 684.8 L951.6 685.3 L954.9 680.1 L958.1 680.5 L961.4 676.4 L964.6 673.9 L967.9 671.6 L971.1 669.0 L974.3 666.6 L977.6 665.5 L980.8 662.2 L984.1 657.6 L987.3 657.0 L990.5 652.2 L993.8 651.9 L997.0 648.2 L1000.3 646.2 L1003.5 645.6 L1006.8 640.4 L1010.0 643.1 L1013.2 642.3 L1016.5 638.9 L1019.7 637.0 L1023.0 634.5 L1026.2 635.0 L1029.4 632.6 L1032.7 631.4 L1035.9 629.9 L1039.2 631.0 L1042.4 629.5 L1045.7 626.5 L1048.9 626.9 L1052.1 625.0 L1055.4 626.3 L1058.6 623.9 L1061.9 623.9 L1065.1 623.7 L1068.3 622.2 L1071.6 620.5 L1074.8 620.4 L1078.1 618.9 L1081.3 620.7 L1084.5 619.5 L1087.8 616.4 L1091.0 616.3 L1094.3 618.8 L1097.5 616.7 L1100.8 615.1 L1104.0 615.6 L1107.2 614.4 L1110.5 614.1 L1113.7 612.3 L1117.0 613.4 L1120.2 611.2 L1123.5 608.9 L1126.7 609.1 L1129.9 608.0 L1133.2 607.8 L1136.4 606.8 L1139.7 605.9 L1142.9 604.3 L1146.1 604.7 L1149.4 603.3 L1152.6 604.8 L1155.9 601.7 L1159.1 602.0 L1162.3 601.3 L1165.6 600.4 L1168.8 601.1 L1172.1 600.5 L1175.3 599.8 L1178.6 600.5 L1181.8 597.9 L1185.0 598.2 L1188.3 597.1 L1191.5 596.6 L1194.8 594.4 L1198.0 593.8 L1201.2 595.0 L1204.5 592.5 L1207.7 594.0 L1211.0 593.8 L1214.2 591.3 L1217.5 591.7 L1220.7 591.2 L1223.9 592.1 L1227.2 592.4 L1230.4 591.0 L1233.7 591.0 L1236.9 591.3 L1240.2 589.2 L1243.4 590.0 L1246.6 590.9 L1249.9 589.6 L1253.1 591.6 L1256.4 589.3 L1259.6 589.9 L1262.8 590.2 L1266.1 590.6 L1269.3 588.9 L1272.6 589.2 L1275.8 589.5 L1279.0 588.8 L1282.3 588.7 L1285.5 586.7 L1288.8 585.6 L1292.0 583.2 L1295.3 583.8 L1298.5 583.9 L1301.7 582.4 L1305.0 582.9 L1308.2 583.6 L1311.5 582.0 L1314.7 582.9 L1318.0 582.3 L1321.2 581.2 L1324.4 581.3 L1327.7 581.0 L1330.9 578.5 L1334.2 580.7 L1337.4 577.1 L1340.6 578.5 L1343.9 577.2 L1347.1 576.7 L1350.4 576.9 L1353.6 575.8 L1356.8 575.4 L1360.1 575.1 L1363.3 573.8 L1366.6 574.3 L1369.8 572.5 L1373.1 573.5 L1376.3 571.4 L1379.5 572.3 L1382.8 571.1 L1386.0 572.4 L1389.3 569.8 L1392.5 571.3 L1395.8 569.4 L1399.0 567.8 L1402.2 570.2 L1405.5 569.4 L1408.7 569.7 L1412.0 567.4 L1415.2 568.3 L1418.4 568.5 L1421.7 567.0 L1424.9 569.2 L1428.2 566.1 L1431.4 566.9 L1434.7 565.0 L1437.9 564.9 L1441.1 565.0 L1444.4 565.0 L1447.6 565.1 L1450.9 565.1 L1454.1 562.4 L1457.3 564.2 L1460.6 563.4 L1463.8 562.0 L1467.1 562.8 L1470.3 563.8 L1473.5 563.4 L1476.8 561.2 L1480.0 561.8 L1483.3 561.6 L1486.5 562.9 L1489.8 561.2 L1493.0 560.4 L1496.2 560.7 L1499.5 558.1 L1502.7 560.1 L1506.0 560.5 L1509.2 559.5 L1512.5 557.1 L1515.7 560.5 L1518.9 558.4 L1522.2 557.3 L1525.4 556.9 L1528.7 557.3 L1531.9 555.9 L1535.1 555.5 L1538.4 555.7 L1541.6 553.7 L1544.9 554.9 L1548.1 552.9 L1551.3 553.7 L1554.6 553.9 L1557.8 553.0 L1561.1 552.9 L1564.3 551.4 L1567.6 550.7 L1570.8 552.0 L1574.0 550.6 L1577.3 549.6 L1580.5 549.5 L1583.8 549.0 L1587.0 550.0 L1590.2 549.6 L1593.5 550.0 L1596.7 547.4 L1600.0 548.1 L1603.2 547.6 L1606.5 545.5 L1609.7 546.9 L1612.9 547.1 L1616.2 545.4 L1619.4 544.6 L1622.7 547.4 L1625.9 543.5 L1629.2 545.6 L1632.4 544.0 L1635.6 543.6 L1638.9 542.2 L1642.1 541.3 L1645.4 543.0 L1648.6 542.9 L1651.8 540.0 L1655.1 541.4 L1658.3 539.9 L1661.6 540.2 L1664.8 538.9 L1668.0 538.1 L1671.3 537.0 L1674.5 536.6 L1677.8 537.7 L1681.0 537.3 L1684.3 536.2 L1687.5 535.5 L1690.7 535.9 L1694.0 536.7 L1697.2 536.9 L1700.5 536.7 L1703.7 535.5 L1707.0 535.8 L1710.2 533.7 L1713.4 535.9 L1716.7 534.2 L1719.9 532.9 L1723.2 532.4 L1726.4 531.8 L1729.6 532.0 L1732.9 532.6 L1736.1 530.7 L1739.4 531.7 L1742.6 530.4 L1745.8 528.3 L1749.1 528.2 L1752.3 527.9 L1755.6 527.8 L1758.8 529.4 L1762.1 529.4 L1765.3 527.0 L1768.5 526.5 L1771.8 525.1 L1775.0 526.4 L1778.3 524.2 L1781.5 524.2 L1784.8 524.4 L1788.0 524.8 L1791.2 524.0 L1794.5 521.4 L1797.7 523.5 L1801.0 522.6 L1804.2 523.0 L1807.4 523.7 L1810.7 520.9 L1813.9 522.3 L1817.2 522.7 L1820.4 520.3 L1823.7 522.7 L1826.9 521.8 L1830.1 521.2 L1833.4 520.0 L1836.6 520.8 L1839.9 520.7 L1843.1 519.0 L1846.3 518.8 L1849.6 518.1 L1852.8 518.7 L1856.1 518.4 L1859.3 518.4 L1862.5 517.5 L1865.8 516.3 L1869.0 516.2 L1872.3 515.0 L1875.5 516.2 L1878.8 514.0 L1882.0 513.7 L1885.2 514.1 L1888.5 511.9 L1891.7 513.7 L1895.0 514.1 L1898.2 513.2 L1901.5 513.0 L1904.7 512.6 L1907.9 511.9 L1911.2 511.7 L1914.4 510.5 L1917.7 511.7 L1920.9 512.0 L1924.1 512.7 L1927.4 510.4 L1930.6 510.8 L1933.9 510.6 L1937.1 509.4 L1940.3 509.0 L1943.6 508.5 L1946.8 508.2 L1950.1 509.4 L1953.3 505.9 L1956.6 505.8 L1959.8 505.1 L1963.0 506.1 L1966.3 505.8 L1969.5 504.0 L1972.8 505.2 L1976.0 503.0 L1979.2 504.9 L1982.5 503.3 L1985.7 503.9 L1989.0 501.6 L1992.2 503.5 L1995.5 502.7 L1998.7 502.0 L2001.9 501.1 L2005.2 503.3 L2008.4 503.2 L2011.7 502.4 L2014.9 503.7 L2018.2 503.8 L2021.4 504.1 L2024.6 502.4 L2027.9 504.1 L2031.1 503.8 L2034.4 503.1 L2037.6 504.0 L2040.8 503.4 L2044.1 504.8 L2047.3 503.7 L2050.6 504.0 L2053.8 504.3 L2057.1 505.0 L2060.3 503.8 L2063.5 501.9 L2066.8 504.1 L2070.0 502.7 L2073.3 503.3 L2076.5 502.2 L2079.7 501.5 L2083.0 500.3 L2086.2 501.4 L2089.5 501.8 L2092.7 500.3 L2095.9 500.1 L2099.2 499.7 L2102.4 500.0 L2105.7 500.0 L2108.9 500.4 L2112.2 499.2 L2115.4 499.5 L2118.6 498.2 L2121.9 499.8 L2125.1 498.8 L2128.4 497.4 L2131.6 497.7 L2134.8 498.3 L2138.1 499.4 L2141.3 498.3 L2144.6 499.6 L2147.8 498.6 L2151.1 497.3 L2154.3 497.4 L2157.5 499.6 L2160.8 497.4 L2164.0 497.3 L2167.3 497.2 L2170.5 496.8 L2173.8 498.6 L2177.0 498.7 L2180.2 496.8 L2183.5 499.2 L2186.7 498.3 L2190.0 497.0 L2193.2 495.7 L2196.4 496.3 L2199.7 496.0 L2202.9 496.6 L2206.2 495.1 L2209.4 495.9 L2212.7 496.8 L2215.9 493.4 L2219.1 493.1 L2222.4 494.4 L2225.6 494.5 L2228.9 490.8 L2232.1 491.7 L2235.3 490.6 L2238.6 492.3 L2241.8 492.0 L2245.1 491.3 L2248.3 492.5 L2251.6 493.6 L2254.8 490.1 L2258.0 491.9 L2261.3 493.0 L2264.5 494.1 L2267.8 494.9 L2271.0 494.9" stroke="#00ff00"/>
</g>
<g>
<text class="t" transform="translate(276.3 1491.7) scale(0.956 1)" text-anchor="end">0</text>
<text class="t" transform="translate(276.3 1204.1) scale(0.956 1)" text-anchor="end">20</text>
<text class="t" transform="translate(276.3 916.5) scale(0.956 1)" text-anchor="end">40</text>
<text class="t" transform="translate(276.3 628.9) scale(0.956 1)" text-anchor="end">60</text>
<text class="t" transform="translate(276.3 341.3) scale(0.956 1)" text-anchor="end">80</text>
<text class="t" transform="translate(276.3 53.7) scale(0.956 1)" text-anchor="end">100</text>
<text class="t" transform="translate(325.5 1570.6) scale(0.956 1)" text-anchor="middle">200</text>
<text class="t" transform="translate(973.8 1570.6) scale(0.956 1)" text-anchor="middle">400</text>
<text class="t" transform="translate(1622.2 1570.6) scale(0.956 1)" text-anchor="middle">600</text>
<text class="t" transform="translate(2270.5 1570.6) scale(0.956 1)" text-anchor="middle">800</text>
</g>
<g>
<line x1="379.3" y1="116.0" x2="538" y2="116.0" stroke="#000000" stroke-width="10.6" stroke-linecap="round" shape-rendering="crispEdges"/>
<text class="l" x="555.8" y="139.8">ACH(230)</text>
<line x1="379.3" y1="203.5" x2="538" y2="203.5" stroke="#ff0000" stroke-width="10.6" stroke-linecap="round" shape-rendering="crispEdges"/>
<text class="l" x="555.8" y="227.0">ACH(400)</text>
<line x1="379.3" y1="290.5" x2="538" y2="290.5" stroke="#0000ff" stroke-width="10.6" stroke-linecap="round" shape-rendering="crispEdges"/>
<text class="l" x="555.8" y="313.5">ACH(600)</text>
<line x1="379.3" y1="377.6" x2="538" y2="377.6" stroke="#00ff00" stroke-width="10.6" stroke-linecap="round" shape-rendering="crispEdges"/>
<text class="l" x="555.8" y="400.0">ACH(900)</text>
</g>
<text class="a" x="1298" y="1686" text-anchor="middle">Wavelength / nm</text>
<text class="a" transform="translate(73 774.5) rotate(-90)" text-anchor="middle">Transmittance / %</text>
</svg>
</body>
</html>
